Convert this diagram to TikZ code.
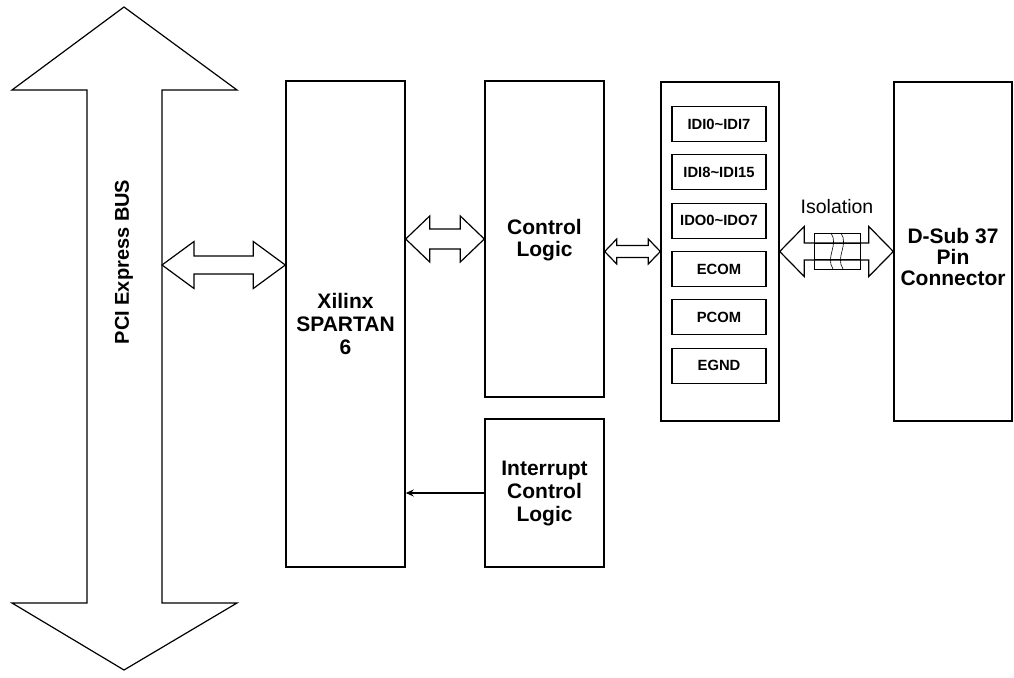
\documentclass[tikz,border=0pt]{standalone}
\usepackage{fontspec}
\setmainfont{Liberation Sans}
\usetikzlibrary{calc,arrows.meta}
\tikzset{
  blk/.style={draw=black, line width=1.4pt, fill=white, inner sep=0pt, align=center,
    font=\bfseries\fontsize{21}{23}\selectfont},
  sub/.style={draw=black, line width=1.2pt, inner sep=0pt, minimum width=94pt, minimum height=35pt,
    font=\bfseries\fontsize{14.8}{16}\selectfont},
  outl/.style={draw=black, line width=1.2pt, line join=miter, fill=white},
  thin/.style={draw=black, line width=0.6pt},
}
\newcommand{\hdarrow}[5]{%
  \path[outl] let \p1=(#1), \p2=(#2) in
   (\x1,\y1) -- (\x1+#3,\y1+#4) -- (\x1+#3,\y1+#5) -- (\x2-#3,\y1+#5) -- (\x2-#3,\y1+#4)
   -- (\x2,\y1) -- (\x2-#3,\y1-#4) -- (\x2-#3,\y1-#5) -- (\x1+#3,\y1-#5) -- (\x1+#3,\y1-#4) -- cycle;}
\begin{document}
\begin{tikzpicture}[x=1pt,y=-1pt]
\useasboundingbox (0,0) rectangle (1014,677);
% PCI Express bus arrow
\path[outl] (124,7) -- (237,90) -- (162,90) -- (162,603) -- (237,603) -- (124,670)
  -- (12,603) -- (87,603) -- (87,90) -- (12,90) -- cycle;
\node[rotate=90, font=\bfseries\fontsize{20}{22}\selectfont] (pcitext) at (124,262) {PCI Express BUS};
\coordinate (pcir) at (162,265);
% blocks
\node[blk, minimum width=119pt, minimum height=486pt] (xil) at (345.5,324) {Xilinx\\SPARTAN\\6};
\node[blk, minimum width=119pt, minimum height=316pt] (ctrl) at (544.5,239) {};
\node[font=\bfseries\fontsize{21}{22.5}\selectfont, align=center] (ctrltext) at (544.5,240) {Control\\Logic};
\node[blk, minimum width=119pt, minimum height=148pt] (intr) at (544.5,493) {Interrupt\\Control\\Logic};
\node[blk, minimum width=118pt, minimum height=339pt] (io) at (720,251.5) {};
\node[blk, minimum width=118pt, minimum height=339pt] (dsub) at (953,251.5) {};
\node[font=\bfseries\fontsize{21}{20.7}\selectfont, align=center] (dsubtext) at (953,257) {D-Sub 37\\Pin\\Connector};
% sub boxes
\node[sub] (s1) at (719,124) {IDI0\textasciitilde IDI7};
\node[sub] (s2) at (719,172.3) {IDI8\textasciitilde IDI15};
\node[sub] (s3) at (719,220.6) {IDO0\textasciitilde IDO7};
\node[sub] (s4) at (719,269) {ECOM};
\node[sub] (s5) at (719,317.3) {PCOM};
\node[sub] (s6) at (719,365.6) {EGND};
% block arrows
\hdarrow{pcir}{xil.west |- pcir}{32}{23.5}{9}
\hdarrow{xil.east |- ctrl.west}{ctrl.west}{24}{23}{10}
\hdarrow{ctrl.east |- io.west}{io.west}{12}{12.5}{6}
\hdarrow{io.east}{dsub.west}{24.5}{25}{8.5}
% isolation symbol
\draw[thin] (814,233) rectangle (860,269);
\draw[thin] (814,243) -- (860,243) (814,259.5) -- (860,259.5);
\draw[thin] (831,233) .. controls (839,245) and (825,257) .. (833,269);
\draw[thin] (841,233) .. controls (849,245) and (835,257) .. (843,269);
\node[font=\fontsize{19.5}{22}\selectfont] (iso) at (837,207) {Isolation};
% interrupt arrow
\draw[line width=1.7pt, -{Stealth[length=8pt,width=7pt]}] (intr.west) -- (xil.east |- intr.west);
\end{tikzpicture}
\end{document}
